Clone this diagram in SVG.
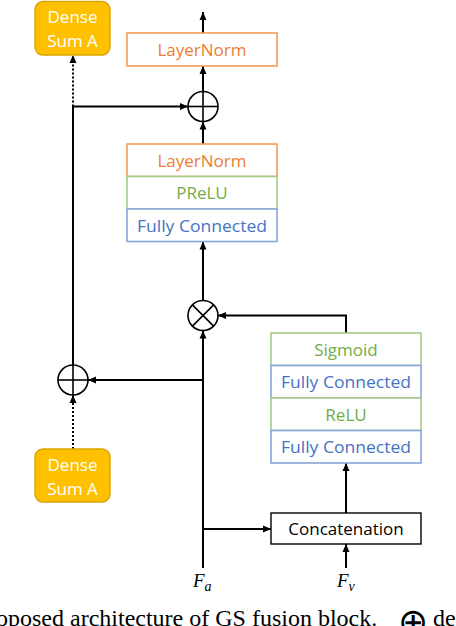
<svg xmlns="http://www.w3.org/2000/svg" width="456" height="626" viewBox="0 0 456 626">
<style>
.lbl{font-family:"Open Sans","DejaVu Sans",sans-serif;font-size:17px;text-anchor:middle}
.or rect{fill:#fff;stroke:#F29C5A;stroke-width:1.6}
.or text{fill:#ED7D31}
.gr rect{fill:#fff;stroke:#A4CD87;stroke-width:1.6}
.gr text{fill:#70AD47}
.bl rect{fill:#fff;stroke:#88A6DA;stroke-width:1.6}
.bl text{fill:#4472C4}
.bk rect{fill:#fff;stroke:#000;stroke-width:1.4}
.bk text{fill:#000}
.ds rect{fill:#FFC000;stroke:#D9A400;stroke-width:1.4}
.ds text{fill:#fff}
.ln{stroke:#000;stroke-width:2;fill:none}
.dot{stroke:#000;stroke-width:2;fill:none;stroke-dasharray:2 2}
.op circle,.op line{stroke:#000;stroke-width:1.6;fill:none}
.math{font-family:"Liberation Serif","DejaVu Serif",serif;font-style:italic;font-size:19px}
.cap{font-family:"Liberation Serif","DejaVu Serif",serif;font-size:24px;fill:#000}
</style>
<defs>
<marker id="ah" markerUnits="userSpaceOnUse" markerWidth="8" markerHeight="8" refX="8" refY="4" orient="auto">
<path d="M0,0.5 L8,4 L0,7.5 z" fill="#000"/>
</marker>
</defs>

<g id="connectors">
<line class="ln" x1="203" y1="33" x2="203" y2="12" marker-end="url(#ah)"/>
<line class="ln" x1="203" y1="144" x2="203" y2="121.5" marker-end="url(#ah)"/>
<line class="ln" x1="203" y1="91.5" x2="203" y2="66" marker-end="url(#ah)"/>
<line class="ln" x1="72" y1="106.5" x2="188" y2="106.5" marker-end="url(#ah)"/>
<line class="dot" x1="73" y1="106.5" x2="73" y2="55" marker-end="url(#ah)"/>
<line class="ln" x1="73" y1="105.5" x2="73" y2="365"/>
<line class="ln" x1="204" y1="380" x2="88" y2="380" marker-end="url(#ah)"/>
<line class="dot" x1="73" y1="449" x2="73" y2="395" marker-end="url(#ah)"/>
<line class="ln" x1="203" y1="568" x2="203" y2="330.5" marker-end="url(#ah)"/>
<line class="ln" x1="203" y1="300.5" x2="203" y2="241.5" marker-end="url(#ah)"/>
<polyline class="ln" points="346,333 346,315.5 218,315.5" marker-end="url(#ah)"/>
<line class="ln" x1="346" y1="513" x2="346" y2="463" marker-end="url(#ah)"/>
<line class="ln" x1="202" y1="529" x2="271" y2="529" marker-end="url(#ah)"/>
<line class="ln" x1="346" y1="568" x2="346" y2="544" marker-end="url(#ah)"/>
</g>

<g id="dense_sum_top" class="ds">
<rect x="35" y="1.5" width="75" height="53.5" rx="8"/>
<text class="lbl" x="72.5" y="23">Dense</text>
<text class="lbl" x="72.5" y="47">Sum A</text>
</g>
<g id="dense_sum_bottom" class="ds">
<rect x="35" y="449" width="75" height="53" rx="8"/>
<text class="lbl" x="72.5" y="471">Dense</text>
<text class="lbl" x="72.5" y="495">Sum A</text>
</g>

<g id="layernorm_top" class="or">
<rect x="127" y="33" width="150" height="33"/>
<text class="lbl" x="202" y="56">LayerNorm</text>
</g>
<g id="oplus_top" class="op">
<circle cx="203" cy="106.5" r="15"/>
<line x1="188" y1="106.5" x2="218" y2="106.5"/>
<line x1="203" y1="91.5" x2="203" y2="121.5"/>
</g>

<g id="layernorm_mid" class="or">
<rect x="127" y="144" width="150" height="32.5"/>
<text class="lbl" x="202" y="166.5">LayerNorm</text>
</g>
<g id="prelu" class="gr">
<rect x="127" y="176.5" width="150" height="32.5"/>
<text class="lbl" x="202" y="199">PReLU</text>
</g>
<g id="fc_main" class="bl">
<rect x="127" y="209" width="150" height="32.5"/>
<text class="lbl" x="202" y="231.5" textLength="130" lengthAdjust="spacingAndGlyphs">Fully Connected</text>
</g>

<g id="otimes" class="op">
<circle cx="203" cy="315.5" r="15"/>
<line x1="192.4" y1="304.9" x2="213.6" y2="326.1"/>
<line x1="213.6" y1="304.9" x2="192.4" y2="326.1"/>
</g>

<g id="oplus_left" class="op">
<circle cx="73" cy="380" r="15"/>
<line x1="58" y1="380" x2="88" y2="380"/>
<line x1="73" y1="365" x2="73" y2="395"/>
</g>

<g id="sigmoid" class="gr">
<rect x="271" y="333" width="150" height="32.5"/>
<text class="lbl" x="346" y="355.5">Sigmoid</text>
</g>
<g id="fc_gate_2" class="bl">
<rect x="271" y="365.5" width="150" height="32.5"/>
<text class="lbl" x="346" y="388" textLength="130" lengthAdjust="spacingAndGlyphs">Fully Connected</text>
</g>
<g id="relu" class="gr">
<rect x="271" y="398" width="150" height="32.5"/>
<text class="lbl" x="346" y="420.5">ReLU</text>
</g>
<g id="fc_gate_1" class="bl">
<rect x="271" y="430.5" width="150" height="32.5"/>
<text class="lbl" x="346" y="453" textLength="130" lengthAdjust="spacingAndGlyphs">Fully Connected</text>
</g>

<g id="concatenation" class="bk">
<rect x="271" y="513" width="150" height="31"/>
<text class="lbl" x="346" y="535">Concatenation</text>
</g>

<g id="input_fa">
<text class="math" x="193" y="587">F<tspan font-size="14" dy="4">a</tspan></text>
</g>
<g id="input_fv">
<text class="math" x="337" y="587">F<tspan font-size="14" dy="4">v</tspan></text>
</g>

<text class="cap" x="-4" y="626">oposed architecture of GS fusion block.</text>
<text x="398" y="634" font-family="DejaVu Sans,sans-serif" font-size="36">⊕</text>
<text class="cap" x="433" y="626">de</text>
</svg>
